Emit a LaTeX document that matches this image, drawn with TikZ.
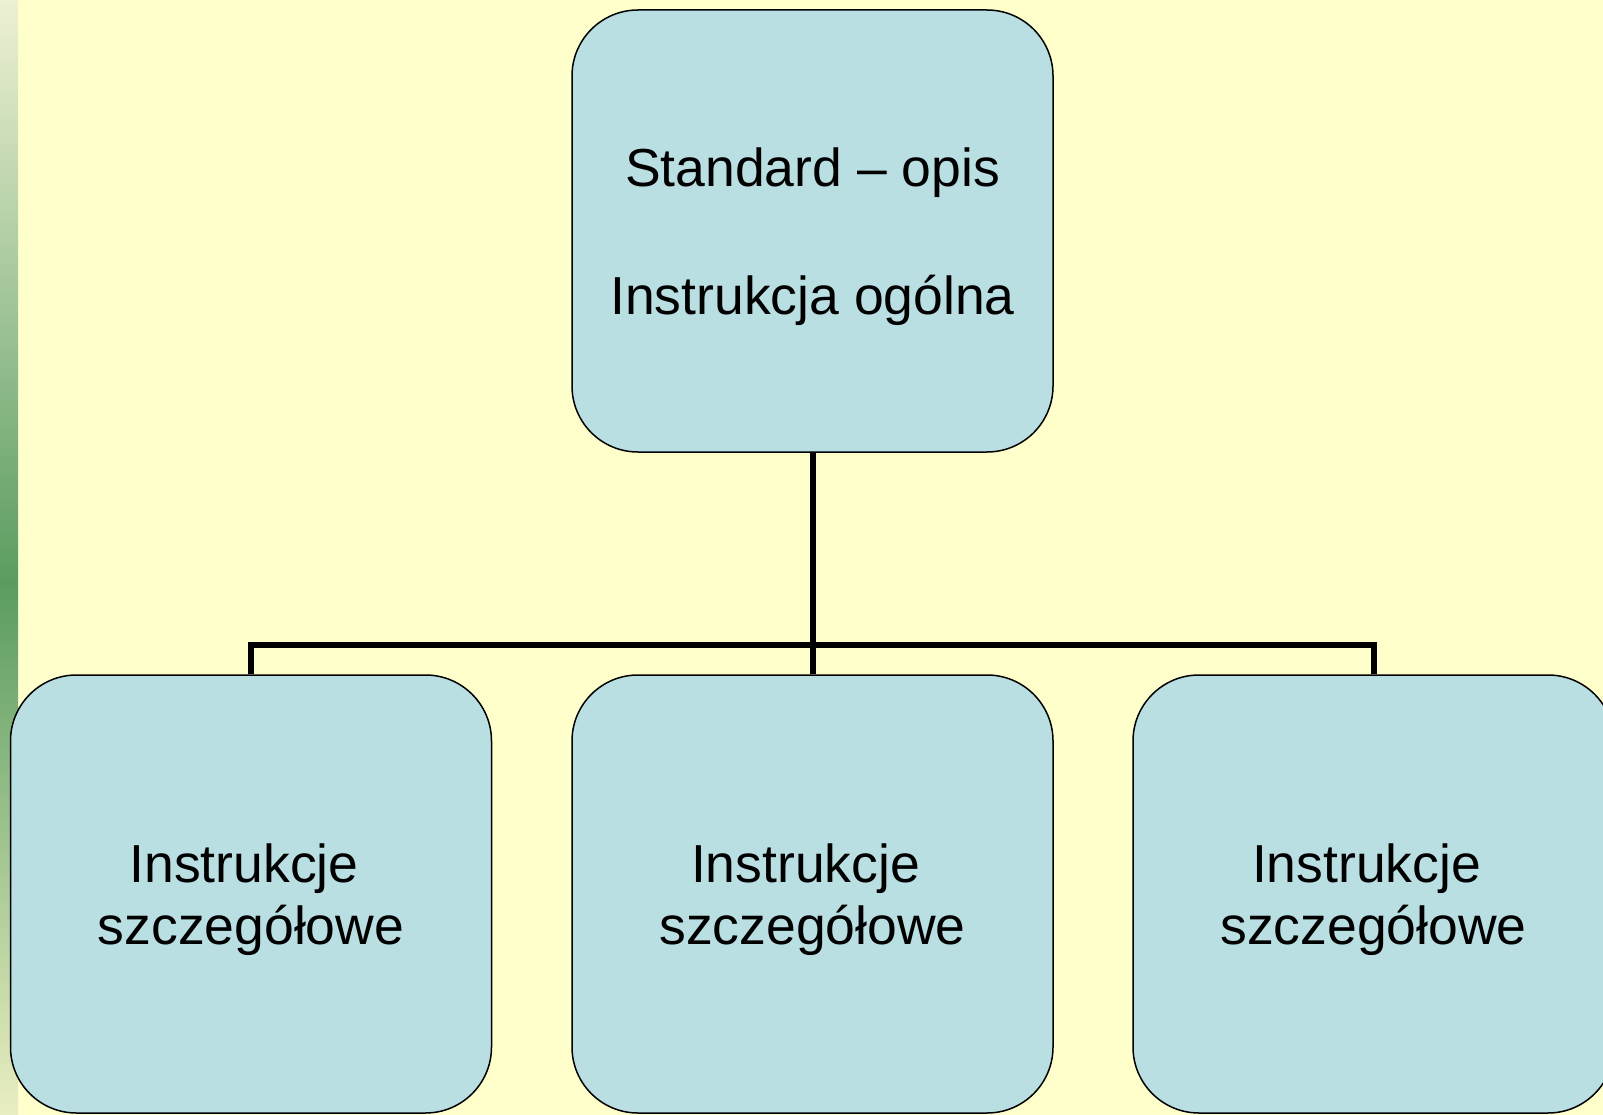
\documentclass[tikz,border=0pt]{standalone}
\usepackage{fontspec}
\setmainfont{Liberation Sans}
\definecolor{bgyellow}{HTML}{FFFFCC}
\definecolor{boxfill}{HTML}{BADFE3}
\definecolor{striplight}{HTML}{EEF1D4}
\definecolor{stripgreen}{HTML}{5A9C60}
\definecolor{stripbottom}{HTML}{E9EEC2}
\begin{document}
\begin{tikzpicture}[x=1pt,y=-1pt,
  boxnode/.style={draw=black, line width=1.5pt, fill=boxfill, rounded corners=66pt,
    minimum width=481pt, align=center, inner sep=0pt,
    font=\fontsize{53.5}{62}\selectfont},
  conn/.style={draw=black, line width=6pt, line join=miter}]
\useasboundingbox (0,0) rectangle (1603,1115);
\fill[bgyellow] (0,0) rectangle (1603,1115);
\shade[top color=striplight, bottom color=stripgreen] (0,0) rectangle (18,583);
\shade[top color=stripgreen, bottom color=stripbottom] (0,583) rectangle (18,1115);

\node[boxnode, minimum height=442pt] (top) at (812.5,231) {\rule{0pt}{51pt}Standard – opis\\[66pt]Instrukcja ogólna};
\node[boxnode, minimum height=438pt] (b1) at (251,894) {\rule{0pt}{51pt}Instrukcje\hspace*{14pt}\\szczegółowe};
\node[boxnode, minimum height=438pt] (b2) at (812.5,894) {\rule{0pt}{51pt}Instrukcje\hspace*{14pt}\\szczegółowe};
\node[boxnode, minimum height=438pt] (b3) at (1373.5,894) {\rule{0pt}{51pt}Instrukcje\hspace*{14pt}\\szczegółowe};

\coordinate (j) at (812.5,645);
\draw[conn] (top.south) -- (j);
\draw[conn] (b1.north) |- (j) -| (b3.north);
\draw[conn] (j) -- (b2.north);
\end{tikzpicture}
\end{document}
